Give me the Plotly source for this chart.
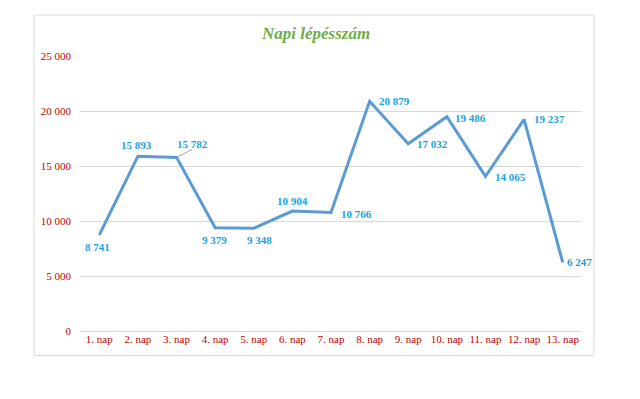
import plotly.graph_objects as go

days = ["1. nap", "2. nap", "3. nap", "4. nap", "5. nap", "6. nap", "7. nap",
        "8. nap", "9. nap", "10. nap", "11. nap", "12. nap", "13. nap"]
steps = [8741, 15893, 15782, 9379, 9348, 10904, 10766, 20879, 17032, 19486, 14065, 19237, 6247]
y_ticks = [0, 5000, 10000, 15000, 20000, 25000]

# label offsets (px) for each data label
offsets = [(-2, -12), (-1, 11), (16, 13), (-1, -12), (6, -12), (0, 10), (25, -1),
           (25, 0), (24, 0), (24, -1), (25, -1), (25, 0), (17, 0)]

def fmt(v):
    return f"{v:,}".replace(",", " ")

fig = go.Figure()
fig.add_trace(go.Scatter(
    x=list(range(len(days))), y=steps, mode="lines",
    line=dict(color="#5B9BD5", width=3), hoverinfo="skip", showlegend=False,
))

anns = []
for i, (v, (dx, dy)) in enumerate(zip(steps, offsets)):
    anns.append(dict(
        x=i, y=v, xref="x", yref="y", text=f"<b>{fmt(v)}</b>", showarrow=False,
        xshift=dx, yshift=dy,
        font=dict(family="Liberation Serif", size=11, color="#1AA3DC"),
    ))
# title
anns.append(dict(
    x=0.47, y=1.0, xref="paper", yref="paper", yanchor="bottom", yshift=11,
    text="<b><i>Napi lépésszám</i></b>", showarrow=False,
    font=dict(family="Liberation Serif", size=17, color="#70AD47"),
))

fig.update_layout(
    width=632, height=391,
    margin=dict(l=72, r=58, t=48, b=68),
    paper_bgcolor="white", plot_bgcolor="white",
    annotations=anns,
    shapes=[
        dict(type="rect", xref="paper", yref="paper",
             x0=-0.0916, x1=1.0239, y0=-0.089, y1=1.149,
             line=dict(color="#D9D9D9", width=1), fillcolor="rgba(0,0,0,0)"),
        dict(type="line", xref="x", yref="y", x0=2, y0=steps[2], x1=2.4, y1=16500,
             line=dict(color="#A6A6A6", width=1)),
    ],
    xaxis=dict(
        range=[-0.5, len(days) - 0.5], automargin=False,
        tickmode="array", tickvals=list(range(len(days))), ticktext=days,
        showgrid=False, zeroline=False, showline=False, ticks="",
        tickfont=dict(family="Liberation Serif", size=11, color="#C00000"),
    ),
    yaxis=dict(
        range=[0, 25000], tickmode="array", tickvals=y_ticks, automargin=False,
        ticktext=[fmt(t) for t in y_ticks],
        showgrid=True, gridcolor="#D9D9D9", gridwidth=1,
        zeroline=True, zerolinecolor="#D9D9D9", zerolinewidth=1,
        showline=False, ticks="", ticklabelstandoff=8,
        tickfont=dict(family="Liberation Serif", size=11, color="#C00000"),
    ),
)

fig.write_html("out.html")
